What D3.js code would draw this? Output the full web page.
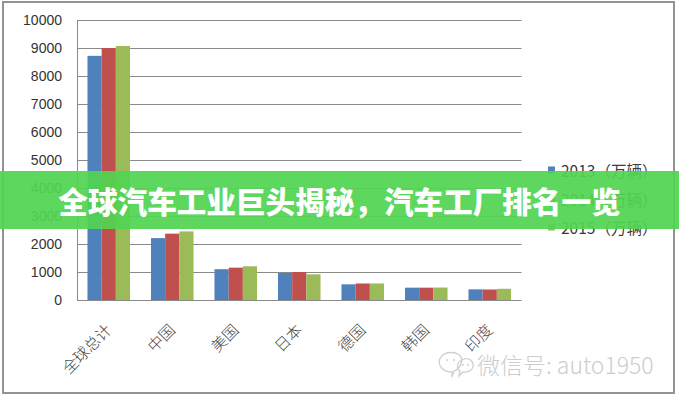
<!DOCTYPE html>
<html>
<head>
<meta charset="utf-8">
<script src="https://cdn.jsdelivr.net/npm/d3@7"></script>
<style>
  html, body { margin: 0; padding: 0; background: #fff; }
  svg { display: block; }
</style>
</head>
<body>
<svg id="chart" width="679" height="400"></svg>
<script>
const categories = ["全球总计", "中国", "美国", "日本", "德国", "韩国", "印度"];
const seriesNames = ["2013（万辆）", "2014（万辆）", "2015（万辆）"];
const values2013 = [8720, 2210, 1100, 965, 560, 440, 380];
const values2014 = [9000, 2370, 1155, 1000, 590, 440, 375];
const values2015 = [9070, 2450, 1205, 915, 590, 445, 400];
const yTicks = [0, 1000, 2000, 3000, 4000, 5000, 6000, 7000, 8000, 9000, 10000];
const colors = ["#4f81bd", "#c0504d", "#9bbb59"];
const titleText = "全球汽车工业巨头揭秘，汽车工厂排名一览";
const watermarkText = "微信号: auto1950";

const seriesValues = [values2013, values2014, values2015];
const svg = d3.select("#chart");

// outer frame
svg.append("rect").attr("x", 3).attr("y", 2).attr("width", 671).attr("height", 391)
  .attr("fill", "#fff").attr("stroke", "#939393").attr("stroke-width", 2);

const plotLeft = 77, plotRight = 521.5, plotTop = 20, plotBottom = 300;
const x = d3.scaleBand().domain(categories).range([plotLeft, plotRight])
  .paddingInner(0.33).paddingOuter(0.165);
const xs = d3.scaleBand().domain(seriesNames).range([0, x.bandwidth()]);
const y = d3.scaleLinear().domain([0, 10000]).range([plotBottom, plotTop]);

// gridlines
svg.append("g").selectAll("line").data(yTicks).join("line")
  .attr("x1", plotLeft).attr("x2", plotRight)
  .attr("y1", d => y(d) + 0.5).attr("y2", d => y(d) + 0.5)
  .attr("stroke", "#8a8a8a").attr("stroke-width", 1);

// y axis line
svg.append("line").attr("x1", plotLeft + 0.5).attr("x2", plotLeft + 0.5)
  .attr("y1", plotTop).attr("y2", plotBottom + 1)
  .attr("stroke", "#8a8a8a").attr("stroke-width", 1);

// y labels
svg.append("g").selectAll("text").data(yTicks).join("text")
  .attr("x", 62).attr("y", d => y(d))
  .attr("text-anchor", "end").attr("dominant-baseline", "central")
  .attr("font-family", "'Liberation Sans', Arial, sans-serif").attr("font-size", 14)
  .attr("fill", "#333").text(d => d);

// bars
seriesValues.forEach((vals, si) => {
  svg.append("g").selectAll("rect").data(vals).join("rect")
    .attr("x", (d, i) => x(categories[i]) + xs(seriesNames[si]))
    .attr("width", xs.bandwidth())
    .attr("y", d => y(d))
    .attr("height", d => y(0) - y(d))
    .attr("fill", colors[si]);
});

// x labels
svg.append("g").selectAll("text").data(categories).join("text")
  .attr("transform", d => `translate(${x(d) + x.bandwidth() / 2 + 4},331) rotate(-45)`)
  .attr("text-anchor", "end")
  .attr("font-family", "'Noto Sans CJK SC', sans-serif").attr("font-weight", 300)
  .attr("font-size", 15.5).attr("fill", "#444").text(d => d);

// legend
const legendY = [170, 198.5, 227];
const lg = svg.append("g");
seriesNames.forEach((name, i) => {
  lg.append("rect").attr("x", 548).attr("y", legendY[i] - 3.5).attr("width", 7).attr("height", 7)
    .attr("fill", colors[i]);
  lg.append("text").attr("x", 561).attr("y", legendY[i]).attr("dominant-baseline", "central")
    .attr("font-family", "'Noto Sans CJK SC', sans-serif").attr("font-weight", 400)
    .attr("font-size", 15.5).attr("fill", "#3a3a3a").text(name);
});

// watermark
const wm = svg.append("g").attr("fill", "none").attr("stroke", "#cfcfcf").attr("stroke-width", 1.3);
wm.append("path").attr("d", "M452,372 C440,372 437,362 441,357 C445,351 457,351 461,357 C463,361 461,368 454,371 L452,377 Z");
wm.append("path").attr("d", "M462,360 C466,357 472,359 473,364 C474,369 469,373 463,372 L459,376 L460,371 C456,368 457,362 462,360 Z");
wm.append("g").attr("fill", "#cfcfcf").attr("stroke", "none").selectAll("circle")
  .data([[447, 360], [454, 360], [463, 365], [468, 365]]).join("circle")
  .attr("cx", d => d[0]).attr("cy", d => d[1]).attr("r", 1);
svg.append("text").attr("x", 477).attr("y", 364).attr("dominant-baseline", "central")
  .attr("font-family", "'Noto Sans CJK SC', sans-serif").attr("font-weight", 300)
  .attr("font-size", 23).attr("fill", "#cdcdcd").text(watermarkText);

// banner
svg.append("rect").attr("x", 0).attr("y", 171).attr("width", 679).attr("height", 58)
  .attr("fill", "#52d452").attr("opacity", 0.93);
svg.append("text").attr("x", 339.5).attr("y", 200).attr("text-anchor", "middle")
  .attr("dominant-baseline", "central")
  .attr("font-family", "'Noto Sans CJK SC', sans-serif").attr("font-weight", 900)
  .attr("font-size", 29.6).attr("fill", "#fff").text(titleText);
</script>
</body>
</html>
